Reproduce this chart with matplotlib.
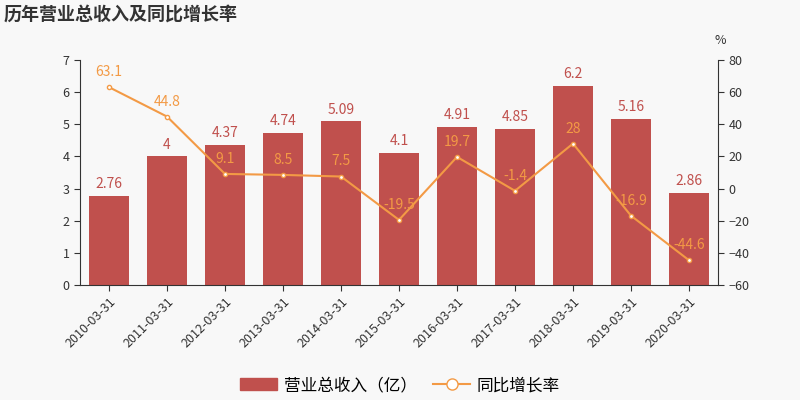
import matplotlib
matplotlib.use("Agg")
import matplotlib.pyplot as plt
from matplotlib.lines import Line2D
from matplotlib.patches import Patch

plt.rcParams['font.family'] = ['Noto Sans CJK SC', 'DejaVu Sans']

dates = ["2010-03-31","2011-03-31","2012-03-31","2013-03-31","2014-03-31","2015-03-31",
         "2016-03-31","2017-03-31","2018-03-31","2019-03-31","2020-03-31"]
revenue = [2.76, 4, 4.37, 4.74, 5.09, 4.1, 4.91, 4.85, 6.2, 5.16, 2.86]
growth = [63.1, 44.8, 9.1, 8.5, 7.5, -19.5, 19.7, -1.4, 28, -16.9, -44.6]
rev_labels = ["2.76","4","4.37","4.74","5.09","4.1","4.91","4.85","6.2","5.16","2.86"]
gr_labels = ["63.1","44.8","9.1","8.5","7.5","-19.5","19.7","-1.4","28","-16.9","-44.6"]

bg = "#f8f8f8"
bar_c = "#c0504d"
line_c = "#f39a45"
fig = plt.figure(figsize=(8, 4), dpi=100, facecolor=bg)
ax = fig.add_axes([0.1, 0.2875, 0.7975, 0.5625], facecolor=bg)
x = list(range(len(dates)))
ax.bar(x, revenue, width=0.7, color=bar_c, zorder=2)
ax.set_ylim(0, 7)
ax.set_xlim(-0.5, len(dates) - 0.5)
ax.set_yticks(range(0, 8))
for i, (v, t) in enumerate(zip(revenue, rev_labels)):
    ax.text(i, v + 0.15, t, ha='center', va='bottom', color=bar_c, fontsize=10)
ax.set_xticks(x)
ax.set_xticklabels(dates, rotation=45, ha='right', rotation_mode='anchor', fontsize=12, color='#333333')
ax2 = ax.twinx()
ax2.plot(x, growth, color=line_c, marker='o', markersize=3, markerfacecolor='white',
         markeredgecolor=line_c, linewidth=1.5, zorder=3)
ax2.set_ylim(-60, 80)
ax2.set_yticks(range(-60, 81, 20))
for i, (v, t) in enumerate(zip(growth, gr_labels)):
    ax2.text(i, v + 5, t, ha='center', va='bottom', color=line_c, fontsize=10)
for a in (ax, ax2):
    for s in a.spines.values():
        s.set_visible(False)
    a.tick_params(labelsize=9, colors='#333333', length=4)
ax.spines['left'].set_visible(True)
ax.spines['left'].set_color('#333333')
ax.spines['bottom'].set_visible(True)
ax.spines['bottom'].set_color('#333333')
ax2.spines['right'].set_visible(True)
ax2.spines['right'].set_color('#333333')
fig.text(0.005, 0.965, "历年营业总收入及同比增长率", fontsize=13, fontweight='bold', color='#333333', va='center')
fig.text(0.9, 0.9, "%", fontsize=9, color='#333333', ha='center', va='center')
handles = [Patch(color=bar_c, label="营业总收入（亿）"),
           Line2D([0], [0], color=line_c, marker='o', markerfacecolor='white', markersize=8, label="同比增长率")]
fig.legend(handles=handles, loc='center', bbox_to_anchor=(0.5, 0.036), ncol=2, frameon=False,
           fontsize=12, handlelength=2.2, columnspacing=1.0, handletextpad=0.4)
fig.savefig("out.png", dpi=100, facecolor=bg)
